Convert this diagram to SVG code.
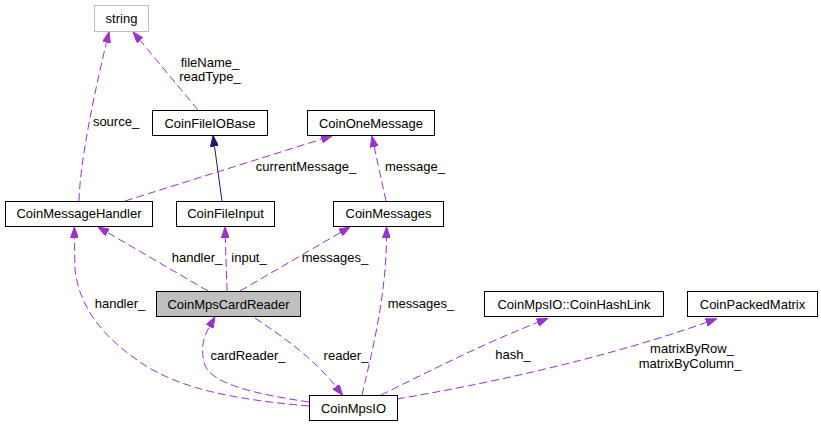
<svg xmlns="http://www.w3.org/2000/svg" width="821" height="427" viewBox="0 0 821 427">
<style>
text { font-family: "Liberation Sans", Arial, sans-serif; font-size: 13px; fill: #000; }
.n text { text-anchor: middle; }
.box { fill: #fff; stroke: #000; stroke-width: 1; }
.e { fill: none; stroke: #9a32cd; stroke-width: 1; stroke-dasharray: 8,4; marker-end: url(#ah); }
.inh { fill: none; stroke: #191970; stroke-width: 1; marker-end: url(#ahb); }
.lbl { text-anchor: middle; }
</style>
<defs>
<marker id="ah" markerUnits="userSpaceOnUse" markerWidth="11" markerHeight="8" viewBox="0 0 11 8" refX="0" refY="4" orient="auto">
<path d="M0,0 L11,4 L0,8 z" fill="#9a32cd" stroke="#9a32cd" stroke-width="1"/>
</marker>
<marker id="ahb" markerUnits="userSpaceOnUse" markerWidth="11" markerHeight="8" viewBox="0 0 11 8" refX="0" refY="4" orient="auto">
<path d="M0,0 L11,4 L0,8 z" fill="#191970" stroke="#191970" stroke-width="1"/>
</marker>
</defs>
<rect width="821" height="427" fill="#fff"/>
<g id="edges">
<path class="e" d="M79,201 C80,160 95,90 106.5,42.5"/>
<path class="e" d="M198,110 L140.1,40.4"/>
<path class="inh" d="M222,201 L214.5,146.4"/>
<path class="e" d="M125,201 L321.5,139.2"/>
<path class="e" d="M386,201 L374.2,146.8"/>
<path class="e" d="M208,291 L107.5,232.5"/>
<path class="e" d="M227,291 L225.3,238"/>
<path class="e" d="M240,291 L340.5,232.5"/>
<path class="e" d="M309,406 C240,400 180,390 140,362 C105,338 80,310 75,270 L74.5,238"/>
<path class="e" d="M309,402 C255,394 212,384 205,365 C200,350 203,338 209.5,326.6"/>
<path class="e" d="M255,318 C285,338 315,360 335.9,386.6"/>
<path class="e" d="M362,395 C370,360 386,300 386.5,238"/>
<path class="e" d="M381,395 C420,376 480,345 537.5,322.5"/>
<path class="e" d="M397,399 C480,385 600,360 706.4,322.4"/>
<text class="lbl" x="116" y="126">source_</text>
<text class="lbl" x="210" y="67">fileName_</text>
<text class="lbl" x="210" y="81">readType_</text>
<text class="lbl" x="306" y="171">currentMessage_</text>
<text class="lbl" x="415" y="171">message_</text>
<text class="lbl" x="197" y="262">handler_</text>
<text class="lbl" x="249" y="262">input_</text>
<text class="lbl" x="335" y="262">messages_</text>
<text class="lbl" x="120" y="307.5">handler_</text>
<text class="lbl" x="421" y="307.5">messages_</text>
<text class="lbl" x="248" y="359.5">cardReader_</text>
<text class="lbl" x="346" y="359.5">reader_</text>
<text class="lbl" x="513" y="359">hash_</text>
<text class="lbl" x="692" y="353">matrixByRow_</text>
<text class="lbl" x="690" y="367.5">matrixByColumn_</text>
</g>
<g id="string" class="n"><rect x="94.5" y="5.5" width="54" height="26" fill="#fff" stroke="#bfbfbf"/><text x="121.5" y="23">string</text></g>
<g id="CoinFileIOBase" class="n"><rect class="box" x="152.5" y="110.5" width="115" height="25"/><text x="210" y="127.5">CoinFileIOBase</text></g>
<g id="CoinOneMessage" class="n"><rect class="box" x="307.5" y="110.5" width="127" height="25"/><text x="371" y="127.5">CoinOneMessage</text></g>
<g id="CoinMessageHandler" class="n"><rect class="box" x="5.5" y="201.5" width="147" height="25"/><text x="79" y="218">CoinMessageHandler</text></g>
<g id="CoinFileInput" class="n"><rect class="box" x="176.5" y="201.5" width="98" height="25"/><text x="225.5" y="218">CoinFileInput</text></g>
<g id="CoinMessages" class="n"><rect class="box" x="333.5" y="201.5" width="110" height="25"/><text x="388.5" y="218">CoinMessages</text></g>
<g id="CoinMpsCardReader" class="n"><rect x="156.5" y="291.5" width="144" height="25" fill="#bfbfbf" stroke="#000"/><text x="228.5" y="308.5">CoinMpsCardReader</text></g>
<g id="CoinHashLink" class="n"><rect class="box" x="484.5" y="291.5" width="179" height="25"/><text x="574" y="308.5">CoinMpsIO::CoinHashLink</text></g>
<g id="CoinPackedMatrix" class="n"><rect class="box" x="687.5" y="291.5" width="130" height="25"/><text x="752.5" y="308.5">CoinPackedMatrix</text></g>
<g id="CoinMpsIO" class="n"><rect class="box" x="309.5" y="395.5" width="88" height="25"/><text x="353.5" y="412.5">CoinMpsIO</text></g>
</svg>
